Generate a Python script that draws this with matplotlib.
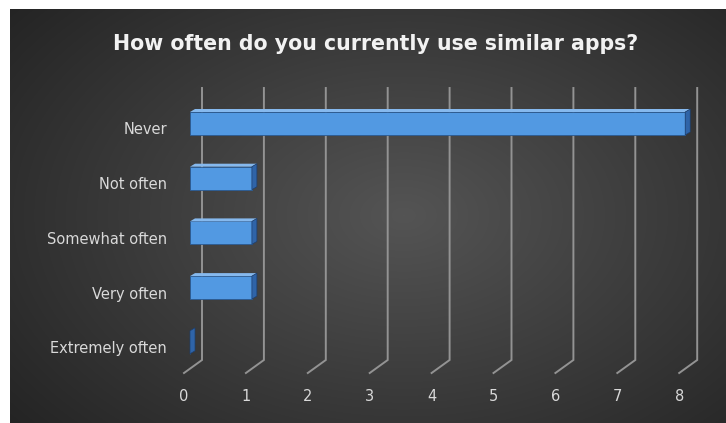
import numpy as np
import matplotlib.pyplot as plt
from matplotlib.patches import Polygon
from matplotlib.transforms import ScaledTranslation

categories = ["Never", "Not often", "Somewhat often", "Very often", "Extremely often"]
counts = [8, 1, 1, 1, 0]
x_ticks = [0, 1, 2, 3, 4, 5, 6, 7, 8]
title = "How often do you currently use similar apps?"

W, H, DPI = 726, 423, 100
PX_X = 61.9   # pixels per unit on the value axis
PX_Y = 54.7   # pixels per category


def fx(px):
    return px / PX_X


def fy(px):
    return px / PX_Y


fig = plt.figure(figsize=(W / DPI, H / DPI), dpi=DPI)
fig.patch.set_facecolor("white")

# dark radial background
bg = fig.add_axes([10 / W, 0, (W - 10) / W, (H - 9) / H])
yy, xx = np.mgrid[0:1:300j, 0:1:500j]
r = np.sqrt(((xx - 0.55) / 0.75) ** 2 + ((yy - 0.5) / 0.85) ** 2)
shade = np.clip(0.33 - 0.2 * r, 0.14, 0.33)
bg.imshow(np.dstack([shade] * 3), aspect="auto", extent=[0, 1, 0, 1], interpolation="bicubic")
bg.axis("off")

# main plot area (pixel box: left 170, right 710, top 80, bottom 385)
ax = fig.add_axes([170 / W, (H - 385) / H, 540 / W, 305 / H])
ax.patch.set_alpha(0)
ax.set_xlim(fx(170 - 190), fx(710 - 190))
ax.set_ylim((385 - 123.5) / PX_Y, (80 - 123.5) / PX_Y)
for s in ax.spines.values():
    s.set_visible(False)

# 3d-ish gridlines: back wall vertical + floor diagonal
y_top = (88 - 123.5) / PX_Y
y_back = (360 - 123.5) / PX_Y
y_front = (373 - 123.5) / PX_Y
for v in x_ticks:
    xb = v + fx(12)
    xf = v - fx(6)
    ax.plot([xb, xb, xf], [y_top, y_back, y_front], color="#939393", lw=1.4, zorder=1,
            solid_joinstyle="miter")

# bars with top and side faces
h = fy(23)
dx, dy = fx(5), fy(3)
for i, v in enumerate(counts):
    top = i - h / 2
    bot = i + h / 2
    ax.barh(i, v, height=h, left=0, color="#5299e2", edgecolor="#2a5a92", lw=0.6, zorder=3)
    ax.add_patch(Polygon([(0, top), (v, top), (v + dx, top - dy), (dx, top - dy)],
                         closed=True, facecolor="#86b9ee", edgecolor="none", zorder=3))
    ax.add_patch(Polygon([(v, top), (v + dx, top - dy), (v + dx, bot - dy), (v, bot)],
                         closed=True, facecolor="#2f64a8", edgecolor="#1d3f6e", lw=0.5, zorder=3))

label_font = dict(family="DejaVu Sans", size=10.5, color="#d9d9d9")

ax.set_yticks(range(len(categories)))
ax.set_yticklabels(categories, **label_font)
ax.tick_params(axis="y", length=0, pad=2)
for lab in ax.get_yticklabels():
    lab.set_transform(lab.get_transform() + ScaledTranslation(0, -5 / DPI, fig.dpi_scale_trans))

ax.set_xticks(x_ticks)
ax.set_xticklabels([str(t) for t in x_ticks], **label_font)
ax.tick_params(axis="x", length=0, pad=3)
for lab in ax.get_xticklabels():
    lab.set_transform(lab.get_transform() + ScaledTranslation(-6 / DPI, 0, fig.dpi_scale_trans))

fig.text(376 / W, 1 - 44 / H, title, ha="center", va="center", family="DejaVu Sans",
         fontsize=14.8, fontweight="bold", color="#f2f2f2")

fig.savefig("out.png", dpi=DPI)
